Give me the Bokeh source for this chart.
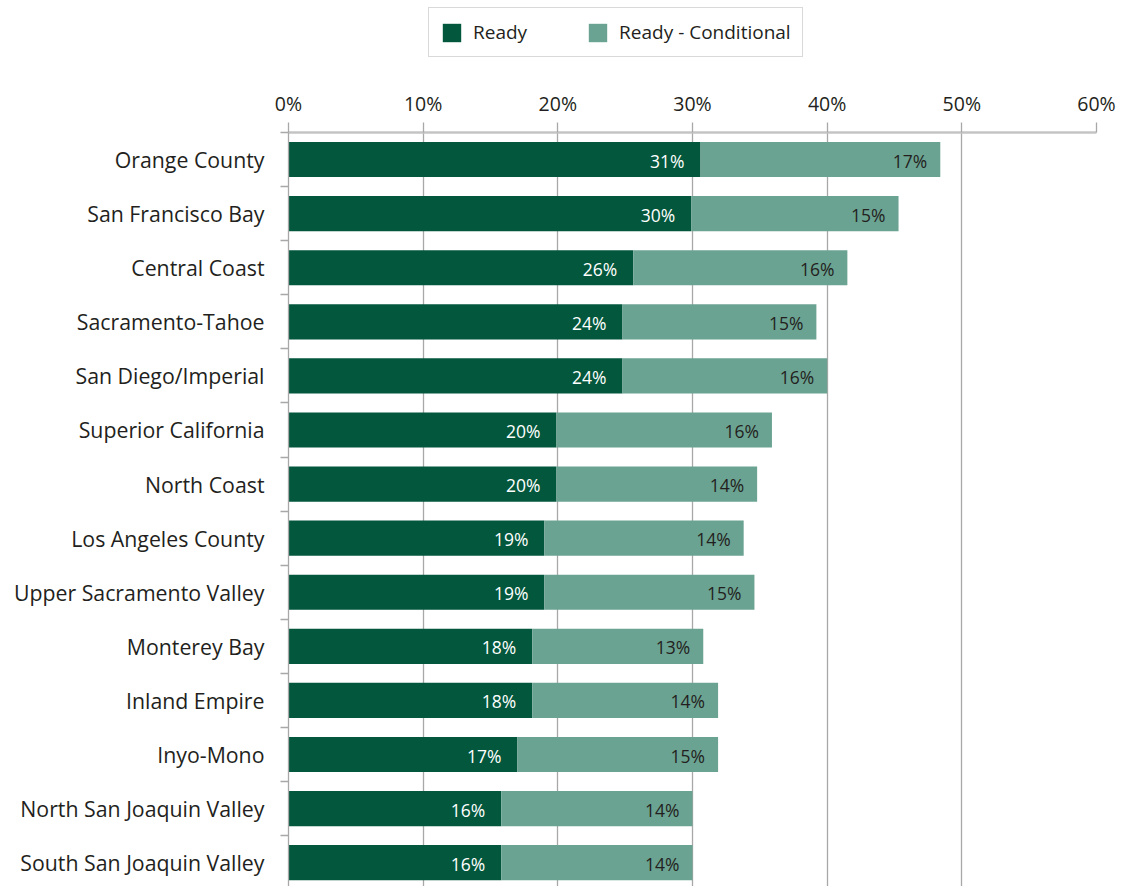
from bokeh.plotting import figure
from bokeh.layouts import column
from bokeh.models import (ColumnDataSource, Range1d, FixedTicker, PrintfTickFormatter,
                          Legend, LegendItem)
from bokeh.core.properties import value
from bokeh.embed import file_html
from bokeh.resources import INLINE

regions = ["Orange County", "San Francisco Bay", "Central Coast", "Sacramento-Tahoe",
           "San Diego/Imperial", "Superior California", "North Coast", "Los Angeles County",
           "Upper Sacramento Valley", "Monterey Bay", "Inland Empire", "Inyo-Mono",
           "North San Joaquin Valley", "South San Joaquin Valley"]
ready = [30.6, 29.9, 25.6, 24.8, 24.8, 19.9, 19.9, 19.0, 19.0, 18.1, 18.1, 17.0, 15.8, 15.8]
conditional = [17.8, 15.4, 15.9, 14.4, 15.2, 16.0, 14.9, 14.8, 15.6, 12.7, 13.8, 14.9, 14.2, 14.2]
ready_labels = ["31%", "30%", "26%", "24%", "24%", "20%", "20%", "19%", "19%", "18%", "18%", "17%", "16%", "16%"]
cond_labels = ["17%", "15%", "16%", "15%", "16%", "16%", "14%", "14%", "15%", "13%", "14%", "15%", "14%", "14%"]
series_names = ["Ready", "Ready - Conditional"]
x_ticks = [0, 10, 20, 30, 40, 50, 60]

DARK = "#03573C"
LIGHT = "#6BA392"
TEXT = "#231F20"
GRID = "#A8A8A8"
FONT = "Open Sans"

n = len(regions)
ypos = list(range(n))
total = [r + c for r, c in zip(ready, conditional)]
src = ColumnDataSource(dict(y=ypos, ready=ready, total=total,
                            rl=ready_labels, cl=cond_labels))

# ---- legend strip (top); its bars lie outside its view, only the legend shows ----
LEG_H = 66
lg = figure(width=1121, height=LEG_H, output_backend="svg", toolbar_location=None,
            x_range=Range1d(0, 60), y_range=Range1d(100, 101),
            min_border_left=0, min_border_right=0, min_border_top=0, min_border_bottom=0)
lg.axis.visible = False
lg.grid.visible = False
lg.outline_line_color = None
lg.background_fill_color = "white"
lg.border_fill_color = "white"
d1 = lg.hbar(y="y", left=0, right="ready", height=0.65, source=src,
             fill_color=DARK, line_color=None)
d2 = lg.hbar(y="y", left="ready", right="total", height=0.65, source=src,
             fill_color=LIGHT, line_color=None)
legend = Legend(items=[LegendItem(label=series_names[0], renderers=[d1], index=0),
                       LegendItem(label=series_names[1], renderers=[d2], index=0)],
                orientation="horizontal", location=(140, LEG_H - 57))
legend.label_text_font = FONT
legend.label_text_font_size = "19px"
legend.label_text_color = TEXT
legend.glyph_width = 23
legend.glyph_height = 23
legend.label_standoff = 10
legend.spacing = 59
legend.padding = 11
legend.margin = 0
legend.border_line_color = "#B3B3B3"
legend.border_line_width = 1.5
legend.background_fill_color = "white"
lg.add_layout(legend, "center")

# ---- main chart ----
p = figure(width=1121, height=886 - LEG_H, output_backend="svg", toolbar_location=None,
           x_range=Range1d(0, 60), y_range=Range1d(13.44, -0.5),
           x_axis_location="above",
           min_border_left=288, min_border_top=132 - LEG_H, min_border_right=25,
           min_border_bottom=0)
p.outline_line_color = None
p.background_fill_color = "white"
p.border_fill_color = "white"

p.hbar(y="y", left=0, right="ready", height=0.65, source=src,
       fill_color=DARK, line_color=None)
p.hbar(y="y", left="ready", right="total", height=0.65, source=src,
       fill_color=LIGHT, line_color=None)

p.text(x="ready", y="y", text="rl", source=src, x_offset=-16, y_offset=1,
       text_align="right", text_baseline="middle", text_color="white",
       text_font=value(FONT), text_font_size="17.5px")
p.text(x="total", y="y", text="cl", source=src, x_offset=-13, y_offset=1,
       text_align="right", text_baseline="middle", text_color=TEXT,
       text_font=value(FONT), text_font_size="17.5px")

# x axis (top)
xa = p.xaxis[0]
xa.ticker = FixedTicker(ticks=x_ticks)
xa.formatter = PrintfTickFormatter(format="%d%%")
xa.major_tick_out = 10
xa.major_tick_in = 0
xa.minor_tick_out = 0
xa.minor_tick_in = 0
xa.major_tick_line_color = GRID
xa.major_tick_line_width = 1.3
xa.axis_line_color = "#C4C4C4"
xa.axis_line_width = 2.5
xa.major_label_text_font = FONT
xa.major_label_text_font_size = "19.5px"
xa.major_label_text_color = TEXT
xa.major_label_standoff = 6

# y axis (left)
ya = p.yaxis[0]
ya.ticker = FixedTicker(ticks=ypos, minor_ticks=[i - 0.5 for i in range(n + 1)])
ya.major_label_overrides = {i: name for i, name in enumerate(regions)}
ya.major_tick_out = 0
ya.major_tick_in = 0
ya.minor_tick_out = 8
ya.minor_tick_in = 0
ya.minor_tick_line_color = GRID
ya.minor_tick_line_width = 1.3
ya.axis_line_color = GRID
ya.axis_line_width = 1.3
ya.major_label_text_font = FONT
ya.major_label_text_font_size = "21.3px"
ya.major_label_text_color = TEXT
ya.major_label_standoff = 16

p.xgrid.ticker = FixedTicker(ticks=x_ticks)
p.xgrid.grid_line_color = GRID
p.xgrid.grid_line_width = 1.3
p.ygrid.grid_line_color = None

layout = column(lg, p, spacing=0)
open("out.html", "w").write(file_html(layout, INLINE))
